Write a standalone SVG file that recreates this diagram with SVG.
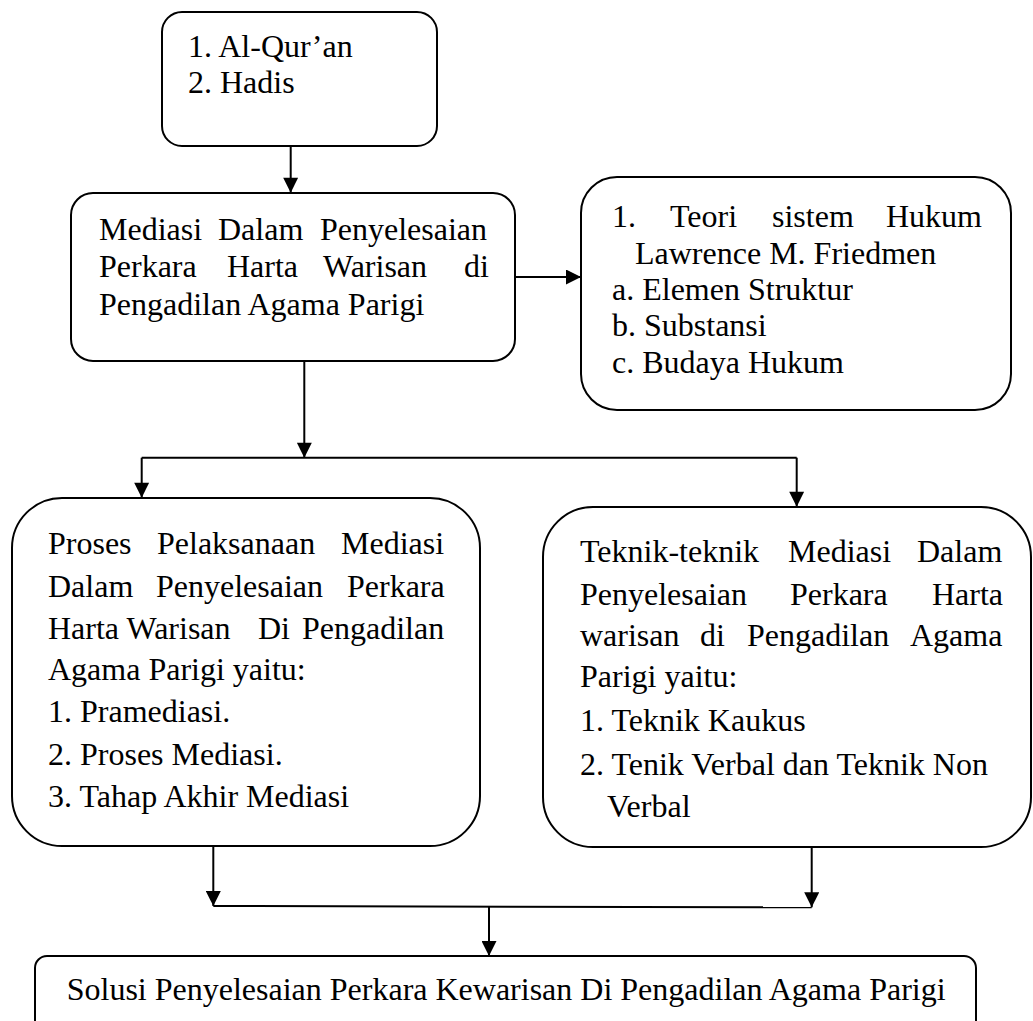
<svg xmlns="http://www.w3.org/2000/svg" width="1033" height="1021" viewBox="0 0 1033 1021">
<style>
  .box { fill: #ffffff; stroke: #000000; stroke-width: 2; }
  .t { font-family: "Liberation Serif", "Times New Roman", serif; font-size: 32px; fill: #000000; }
  .conn { fill: none; stroke: #000000; stroke-width: 2; }
</style>
<defs>
  <marker id="arrow" viewBox="0 0 16 16" refX="16" refY="8" markerWidth="16" markerHeight="15" markerUnits="userSpaceOnUse" orient="auto">
    <path d="M0,0 L16,8 L0,16 z" fill="#000000"/>
  </marker>
</defs>
<rect width="1033" height="1021" fill="#ffffff"/>

<g id="connectors">
  <line class="conn" x1="290.7" y1="146" x2="290.7" y2="192.7" marker-end="url(#arrow)"/>
  <line class="conn" x1="515" y1="277" x2="581" y2="277" marker-end="url(#arrow)"/>
  <line class="conn" x1="304.3" y1="360.7" x2="304.3" y2="457.7" marker-end="url(#arrow)"/>
  <line class="conn" x1="141.7" y1="457.7" x2="796.7" y2="457.7"/>
  <line class="conn" x1="141.7" y1="457.7" x2="141.7" y2="497.7" marker-end="url(#arrow)"/>
  <line class="conn" x1="796.7" y1="457.7" x2="796.7" y2="506.7" marker-end="url(#arrow)"/>
  <line class="conn" x1="213.3" y1="846" x2="213.3" y2="906" marker-end="url(#arrow)"/>
  <line class="conn" x1="811.7" y1="846.7" x2="811.7" y2="907.3" marker-end="url(#arrow)"/>
  <line class="conn" x1="213.3" y1="906" x2="811.7" y2="907.3"/>
  <line class="conn" x1="489" y1="906.6" x2="489" y2="956" marker-end="url(#arrow)"/>
</g>

<g id="node-sumber">
  <rect class="box" x="162" y="12" width="275" height="134" rx="20" ry="20"/>
  <text class="t" x="188" y="57">1. Al-Qur’an</text>
  <text class="t" x="188" y="93">2. Hadis</text>
</g>

<g id="node-mediasi">
  <rect class="box" x="71" y="193" width="444" height="168" rx="22" ry="22"/>
  <text class="t" y="240"><tspan x="99">Mediasi</tspan><tspan x="218">Dalam</tspan><tspan x="320">Penyelesaian</tspan></text>
  <text class="t" y="277"><tspan x="99">Perkara</tspan><tspan x="227">Harta</tspan><tspan x="323">Warisan</tspan><tspan x="464">di</tspan></text>
  <text class="t" x="99" y="315">Pengadilan Agama Parigi</text>
</g>

<g id="node-teori">
  <rect class="box" x="581" y="177" width="430" height="233" rx="36" ry="36"/>
  <text class="t" y="227"><tspan x="612">1.</tspan><tspan x="670">Teori</tspan><tspan x="772">sistem</tspan><tspan x="886">Hukum</tspan></text>
  <text class="t" x="635" y="263.5">Lawrence M. Friedmen</text>
  <text class="t" x="612" y="300">a. Elemen Struktur</text>
  <text class="t" x="612" y="336">b. Substansi</text>
  <text class="t" x="612" y="373">c. Budaya Hukum</text>
</g>

<g id="node-proses">
  <rect class="box" x="12" y="498" width="468" height="348" rx="50" ry="50"/>
  <text class="t" y="554"><tspan x="48">Proses</tspan><tspan x="157">Pelaksanaan</tspan><tspan x="341">Mediasi</tspan></text>
  <text class="t" y="597"><tspan x="48">Dalam</tspan><tspan x="156">Penyelesaian</tspan><tspan x="347">Perkara</tspan></text>
  <text class="t" y="638.5"><tspan x="48">Harta Warisan</tspan><tspan x="258">Di</tspan><tspan x="302">Pengadilan</tspan></text>
  <text class="t" x="48" y="680">Agama Parigi yaitu:</text>
  <text class="t" x="48" y="722">1. Pramediasi.</text>
  <text class="t" x="48" y="765">2. Proses Mediasi.</text>
  <text class="t" x="48" y="807">3. Tahap Akhir Mediasi</text>
</g>

<g id="node-teknik">
  <rect class="box" x="543" y="507" width="488" height="340" rx="50" ry="50"/>
  <text class="t" y="562"><tspan x="580">Teknik-teknik</tspan><tspan x="788">Mediasi</tspan><tspan x="917">Dalam</tspan></text>
  <text class="t" y="604.5"><tspan x="580">Penyelesaian</tspan><tspan x="790">Perkara</tspan><tspan x="932">Harta</tspan></text>
  <text class="t" y="646"><tspan x="580">warisan</tspan><tspan x="700">di</tspan><tspan x="747">Pengadilan</tspan><tspan x="910">Agama</tspan></text>
  <text class="t" x="580" y="687">Parigi yaitu:</text>
  <text class="t" x="580" y="731">1. Teknik Kaukus</text>
  <text class="t" x="580" y="774.5">2. Tenik Verbal dan Teknik Non</text>
  <text class="t" x="607" y="816.5">Verbal</text>
</g>

<g id="node-solusi">
  <rect class="box" x="35" y="956" width="941" height="90" rx="12" ry="12"/>
  <text class="t" x="66.7" y="1000">Solusi Penyelesaian Perkara Kewarisan Di Pengadilan Agama Parigi</text>
</g>
</svg>
